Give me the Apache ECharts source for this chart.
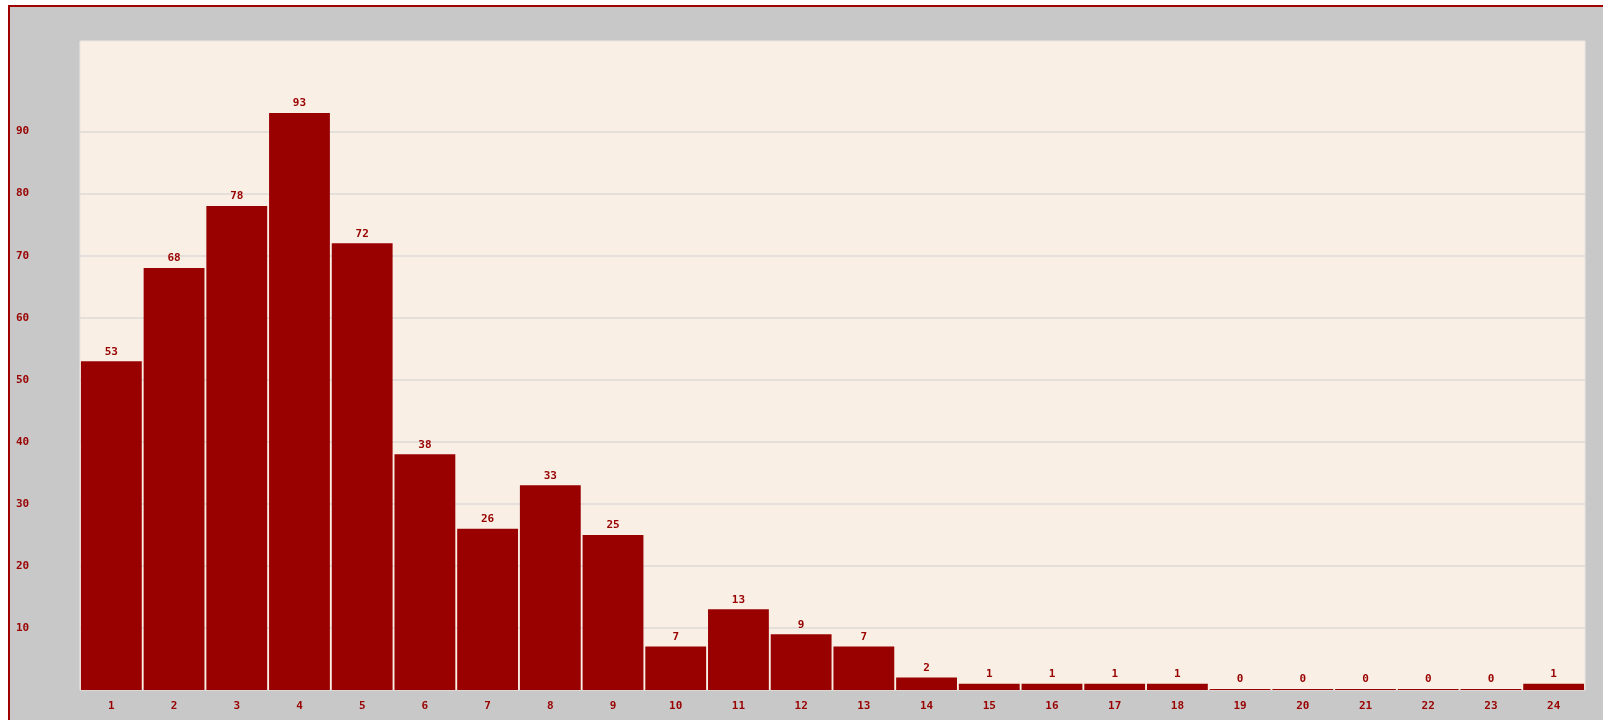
<!DOCTYPE html>
<html>
<head>
<meta charset="utf-8">
<script src="https://cdn.jsdelivr.net/npm/echarts@6/dist/echarts.min.js"></script>
<style>
  html, body { margin: 0; padding: 0; background: #ffffff; overflow: hidden; }
  #frame {
    position: absolute; left: 8px; top: 5px;
    width: 1593px; height: 713px;
    border-left: 2px solid #a00000; border-top: 2px solid #a00000;
    background: #c8c8c8;
  }
  #chart { width: 1593px; height: 713px; }
</style>
</head>
<body>
<div id="frame"><div id="chart"></div></div>
<script>
const categories = ['1','2','3','4','5','6','7','8','9','10','11','12','13','14','15','16','17','18','19','20','21','22','23','24'];
const values = [53, 68, 78, 93, 72, 38, 26, 33, 25, 7, 13, 9, 7, 2, 1, 1, 1, 1, 0, 0, 0, 0, 0, 1];
const yTickLabels = [10, 20, 30, 40, 50, 60, 70, 80, 90];

const RED = '#990000';
const labelFont = { color: RED, fontFamily: 'DejaVu Sans Mono', fontSize: 11, fontWeight: 'bold' };

const chart = echarts.init(document.getElementById('chart'));
const gridColors = [];
for (let i = 0; i <= 11; i++) {
  gridColors.push(yTickLabels.indexOf(i * 10) >= 0 ? '#e4dfdb' : 'rgba(0,0,0,0)');
}

chart.setOption({
  animation: false,
  backgroundColor: '#c8c8c8',
  grid: {
    left: 70, top: 34, right: 18, bottom: 30,
    show: true, backgroundColor: '#f9efe5', borderColor: '#ece6e0', borderWidth: 1
  },
  xAxis: {
    type: 'category',
    data: categories,
    axisLine: { show: false },
    axisTick: { show: false },
    axisLabel: Object.assign({ margin: 11 }, labelFont)
  },
  yAxis: {
    type: 'value',
    min: 0, max: 104.6, interval: 10,
    axisLine: { show: false },
    axisTick: { show: false },
    axisLabel: Object.assign({
      align: 'left', margin: 64,
      formatter: function (v) { return yTickLabels.indexOf(v) >= 0 ? String(v) : ''; }
    }, labelFont),
    splitLine: { show: true, lineStyle: { color: gridColors, width: 2 } }
  },
  series: [{
    type: 'bar',
    data: values,
    barCategoryGap: '3%',
    barMinHeight: 1,
    itemStyle: { color: RED },
    label: Object.assign({ show: true, position: 'top', distance: 4 }, labelFont)
  }]
});
</script>
</body>
</html>
